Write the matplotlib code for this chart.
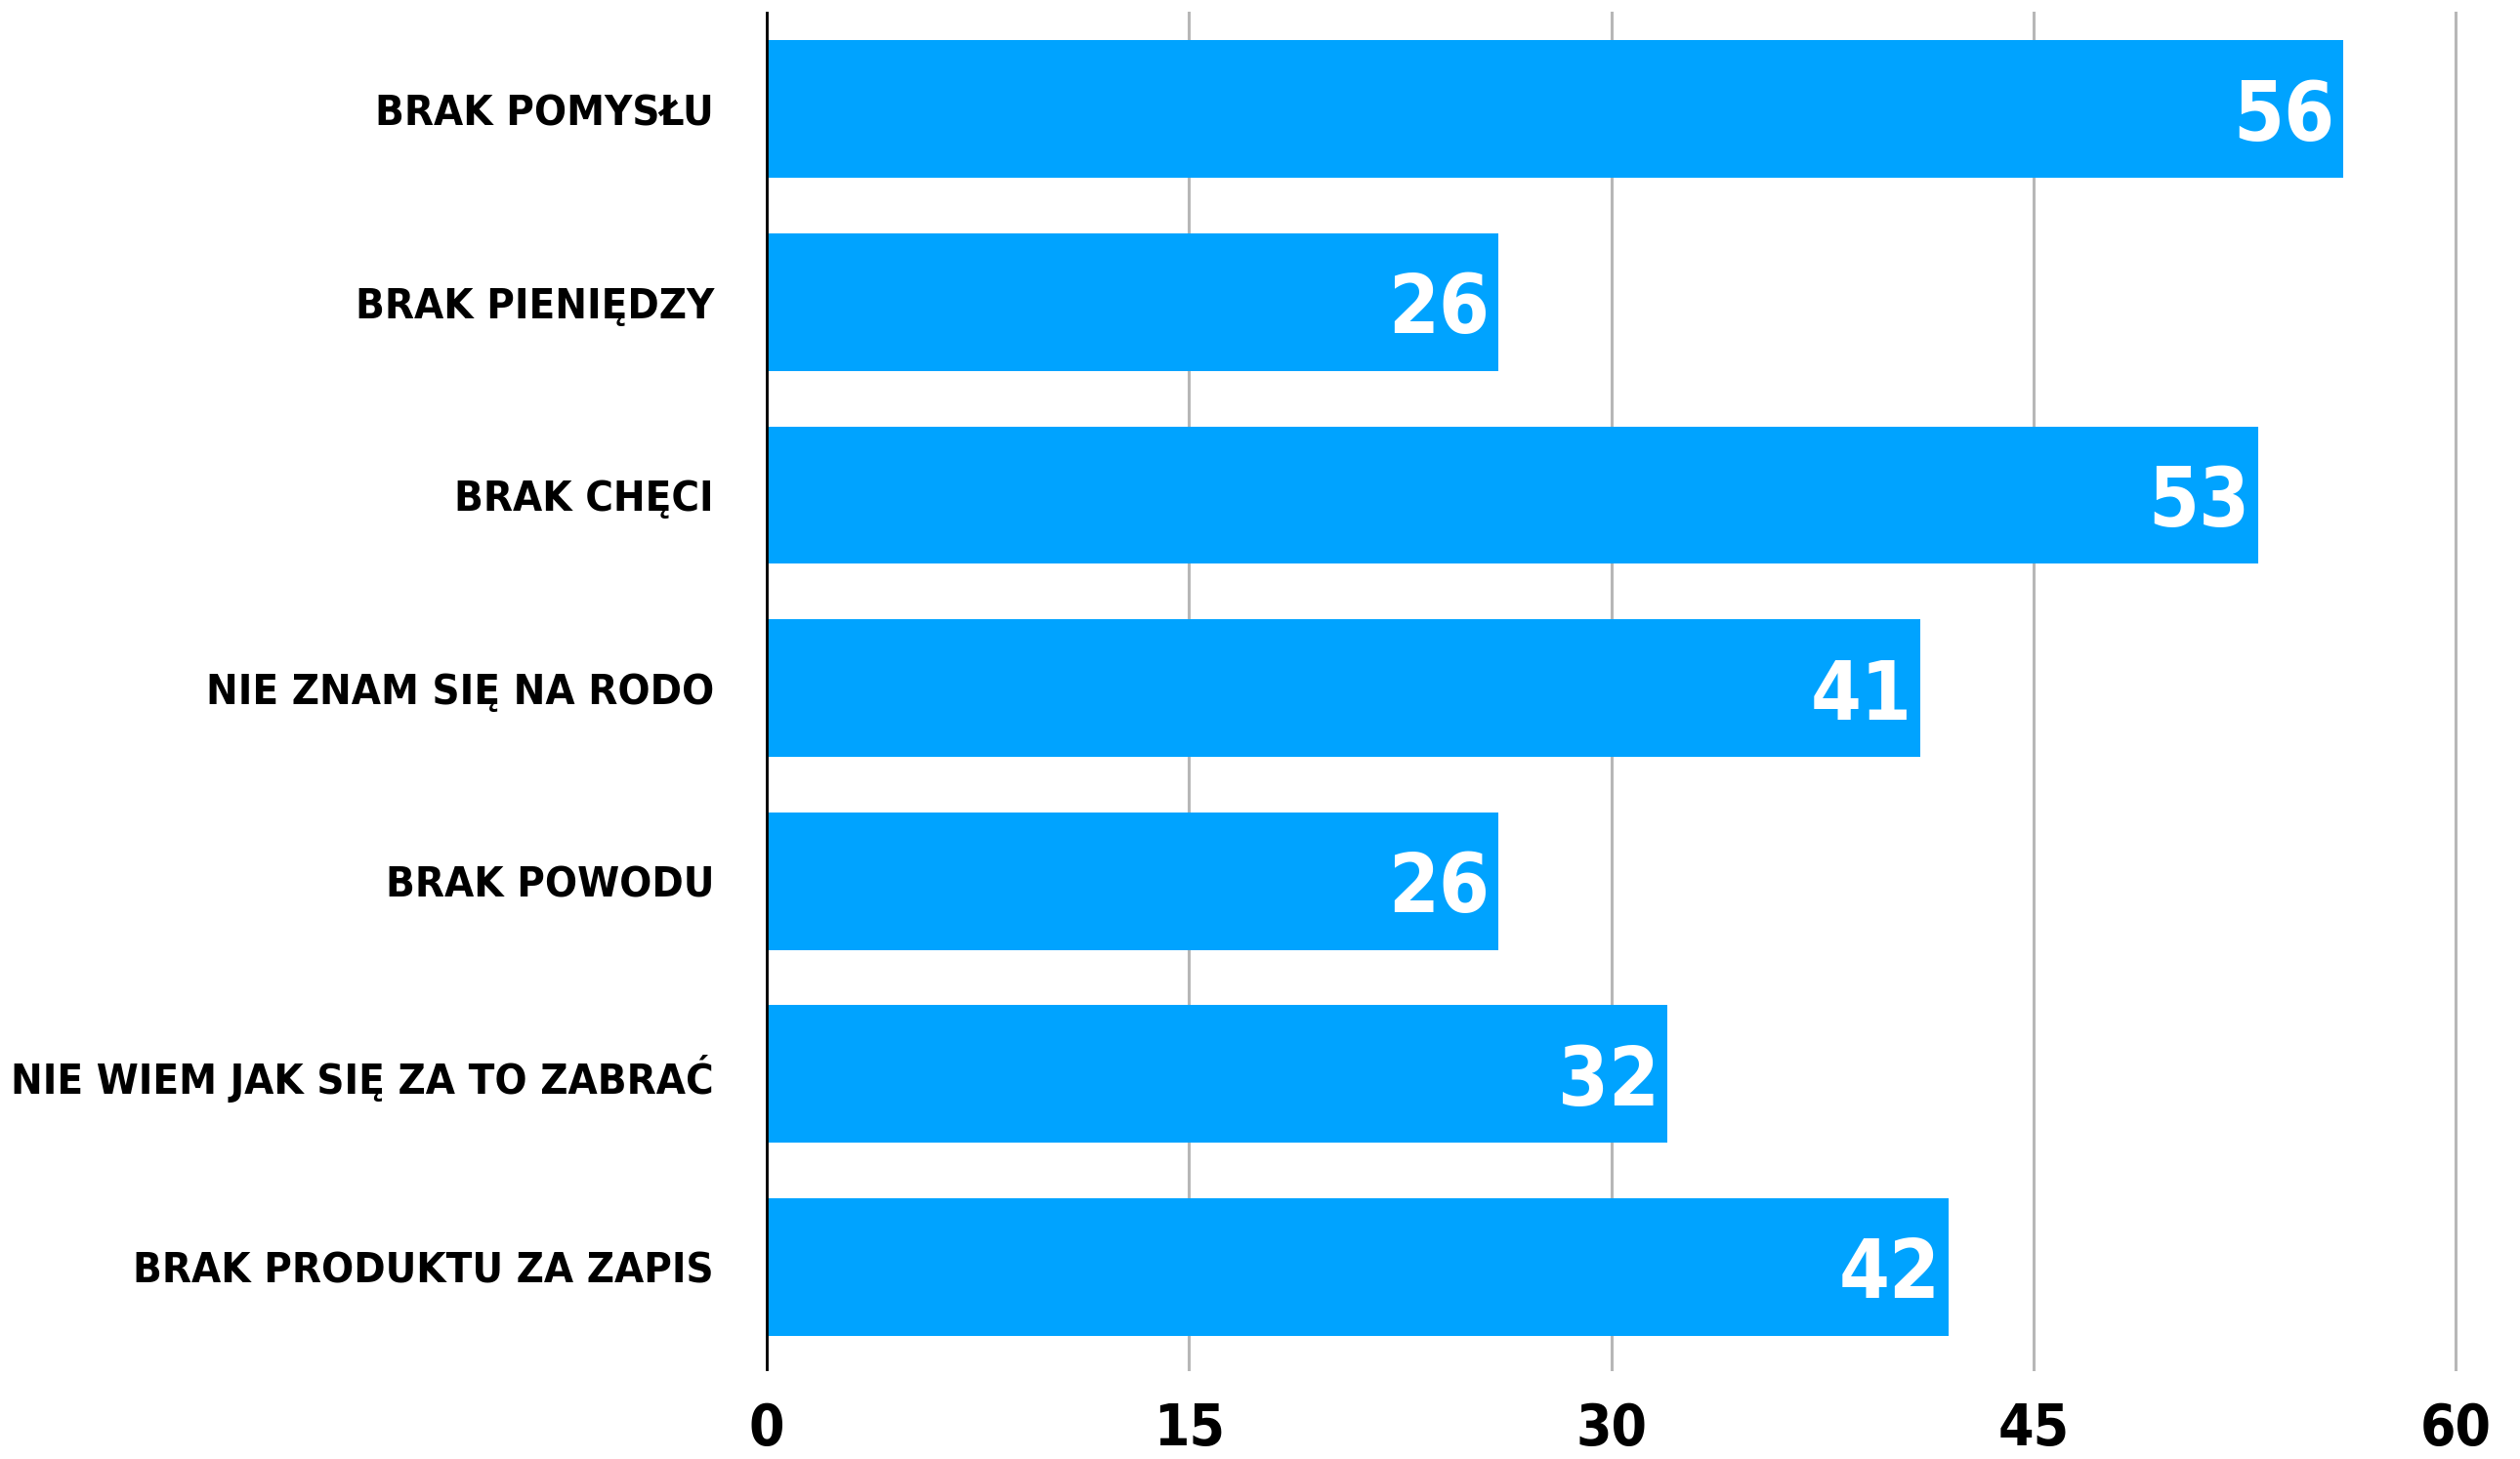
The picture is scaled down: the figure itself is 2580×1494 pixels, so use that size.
import matplotlib
matplotlib.use("Agg")
import matplotlib.pyplot as plt
from matplotlib import font_manager as fm

categories = ["BRAK POMYSŁU", "BRAK PIENIĘDZY", "BRAK CHĘCI",
              "NIE ZNAM SIĘ NA RODO", "BRAK POWODU",
              "NIE WIEM JAK SIĘ ZA TO ZABRAĆ", "BRAK PRODUKTU ZA ZAPIS"]
values = [56, 26, 53, 41, 26, 32, 42]
xticks = [0, 15, 30, 45, 60]

BLUE = "#00a3ff"

# pick the narrowest bold sans we have (the original uses a condensed display face)
fonts = fm.fontManager.ttflist
names = {f.name for f in fonts}
if "Liberation Sans Narrow" in names:
    FAMILY, STRETCH = "Liberation Sans Narrow", "normal"
elif any(f.name == "DejaVu Sans" and f.stretch == "condensed" for f in fonts):
    FAMILY, STRETCH = "DejaVu Sans", "condensed"
else:
    FAMILY, STRETCH = "DejaVu Sans", "normal"

plt.rcParams['font.family'] = [FAMILY, 'DejaVu Sans']
plt.rcParams['font.weight'] = 'bold'
plt.rcParams['font.stretch'] = STRETCH


def fit_size(fig, text, size, max_w):
    # shrink a font size so the text is no wider than max_w pixels
    r = fig.canvas.get_renderer()
    t = fig.text(0, 0, text, fontsize=size, fontweight="bold")
    w = t.get_window_extent(r).width
    t.remove()
    return min(size, size * max_w / w)


def main():
    fig = plt.figure(figsize=(25.8, 14.94), dpi=100)
    ax = fig.add_axes([0.3043, 0.0616, 0.9744 - 0.3043, 0.9913 - 0.0616])
    fig.canvas.draw()

    cat_size = fit_size(fig, max(categories, key=len), 46, 718)
    val_size = fit_size(fig, "56", 74, 104)

    pos = list(range(len(categories)))
    ax.barh(pos, values, height=0.713, color=BLUE, zorder=2)

    for p, v in zip(pos, values):
        ax.text(v - 0.3, p, str(v), color="white", fontsize=val_size,
                fontweight="bold", ha="right", va="center_baseline", zorder=3)

    ax.set_xlim(0, 60)
    ax.set_ylim(6.53, -0.5)
    ax.set_xticks(xticks)
    ax.set_xticklabels([str(t) for t in xticks], fontsize=42, fontweight="bold")
    ax.set_yticks(pos)
    ax.set_yticklabels(categories, fontsize=cat_size, fontweight="bold")
    ax.tick_params(axis="x", length=0, pad=24)
    ax.tick_params(axis="y", length=0, pad=39)

    ax.grid(axis="x", color="#b7b7b7", linewidth=2.2, zorder=1)
    for gl in ax.get_xgridlines():
        gl.set_clip_on(False)
    for s in ["top", "right", "bottom"]:
        ax.spines[s].set_visible(False)
    ax.spines["left"].set_color("black")
    ax.spines["left"].set_linewidth(2)
    ax.spines["left"].set_zorder(4)

    fig.savefig("out.png", dpi=100, facecolor="white")


if __name__ == '__main__':
    main()
